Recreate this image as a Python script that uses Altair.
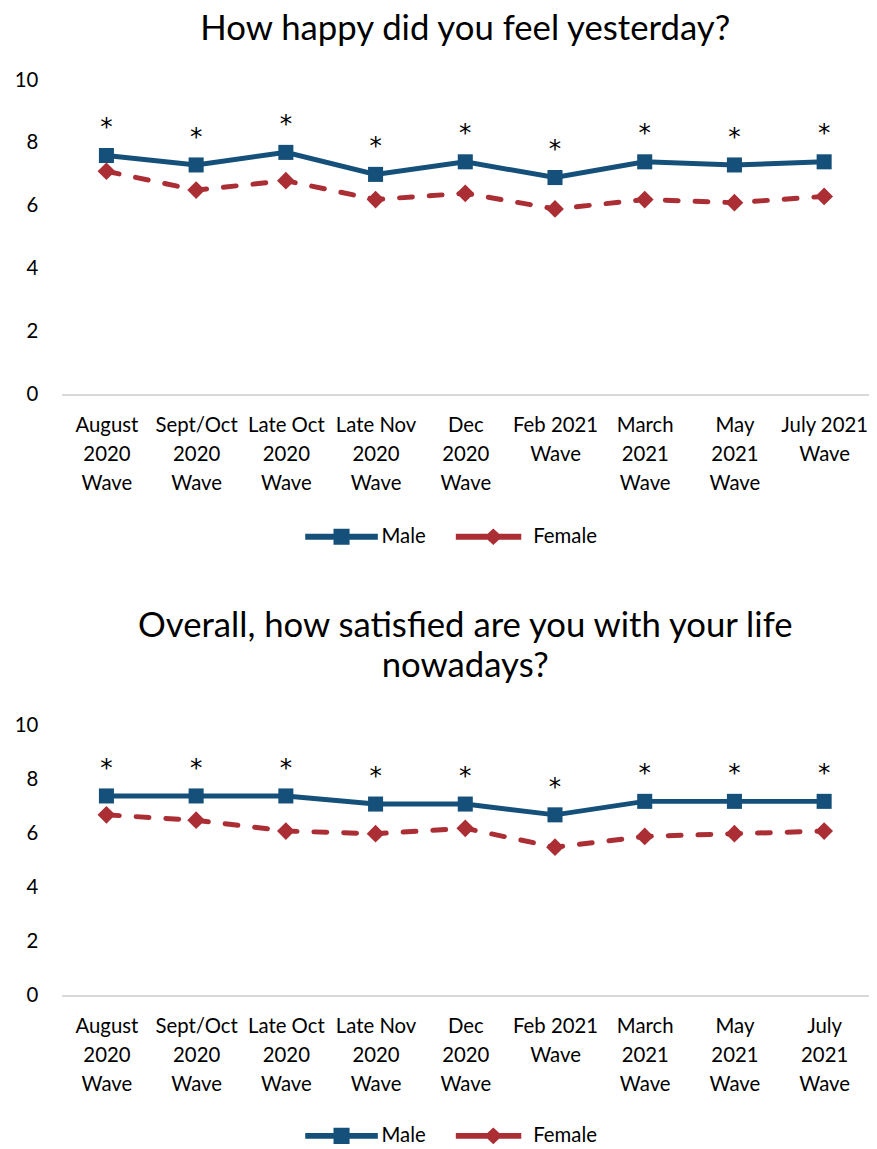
import altair as alt
import pandas as pd

FONT = "Lato"
MALE_COLOR = "#15507A"
FEMALE_COLOR = "#AB2E35"

series_names = ["Male", "Female"]

top_title = "How happy did you feel yesterday?"
top_waves = ["August|2020|Wave", "Sept/Oct|2020|Wave", "Late Oct|2020|Wave",
             "Late Nov|2020|Wave", "Dec|2020|Wave", "Feb 2021|Wave",
             "March|2021|Wave", "May|2021|Wave", "July 2021|Wave"]
top_male = [7.6, 7.3, 7.7, 7.0, 7.4, 6.9, 7.4, 7.3, 7.4]
top_female = [7.1, 6.5, 6.8, 6.2, 6.4, 5.9, 6.2, 6.1, 6.3]

bot_title = ["Overall, how satisfied are you with your life", "nowadays?"]
bot_waves = ["August|2020|Wave", "Sept/Oct|2020|Wave", "Late Oct|2020|Wave",
             "Late Nov|2020|Wave", "Dec|2020|Wave", "Feb 2021|Wave",
             "March|2021|Wave", "May|2021|Wave", "July|2021|Wave"]
bot_male = [7.4, 7.4, 7.4, 7.1, 7.1, 6.7, 7.2, 7.2, 7.2]
bot_female = [6.7, 6.5, 6.1, 6.0, 6.2, 5.5, 5.9, 6.0, 6.1]

sig_mark = "*"

y_ticks = [0, 2, 4, 6, 8, 10]

# legend symbols (line + marker), drawn in unit coordinates
MALE_LEGEND_PATH = ("M-6.1,-0.5 H6.1 V0.5 H-6.1 Z "
                    "M-1.35,-1.35 H1.35 V1.35 H-1.35 Z")
FEMALE_LEGEND_PATH = ("M-6.3,-0.5 H-2.2 V0.5 H-6.3 Z "
                      "M-2.2,-0.5 H2.2 V0.5 H-2.2 Z "
                      "M2.2,-0.5 H4.7 V0.5 H2.2 Z "
                      "M0,-1.4 L1.5,0 L0,1.4 L-1.5,0 Z")
DIAMOND_PATH = "M0,-1 L1,0 L0,1 L-1,0 Z"

LABEL_SIZE = 20.5


def make_df(waves, male, female):
    rows = []
    for w, v in zip(waves, male):
        rows.append({"wave": w, "series": "Male", "value": v})
    for w, v in zip(waves, female):
        rows.append({"wave": w, "series": "Female", "value": v})
    return pd.DataFrame(rows)


def make_legend(legend_y):
    return alt.Legend(orient="none", direction="horizontal",
                      legendX=272, legendY=legend_y,
                      symbolSize=144, symbolStrokeWidth=0,
                      labelOffset=30, columnPadding=29,
                      labelFontSize=LABEL_SIZE, labelFont=FONT,
                      labelColor="#000000", padding=0, symbolOpacity=1)


def make_panel(title, waves, male, female, height, legend_y, offset):
    df = make_df(waves, male, female)
    base = alt.Chart(df)
    x = alt.X("wave:N", sort=waves, title=None,
              axis=alt.Axis(labelAngle=0, labelExpr="split(datum.label, '|')",
                            ticks=False, domainColor="#D9D9D9", domainWidth=2,
                            labelPadding=21, labelLineHeight=29.5,
                            labelFontSize=LABEL_SIZE, labelFont=FONT,
                            labelColor="#000000", grid=False))
    y = alt.Y("value:Q", title=None,
              scale=alt.Scale(domain=[0, 10], nice=False, zero=True),
              axis=alt.Axis(values=y_ticks, domain=False, ticks=False, grid=False,
                            labelPadding=24, labelFontSize=LABEL_SIZE, labelFont=FONT,
                            labelColor="#000000"))

    male_line = base.transform_filter("datum.series == 'Male'").mark_line(
        color=MALE_COLOR, strokeWidth=5).encode(x=x, y=y)
    female_line = base.transform_filter("datum.series == 'Female'").mark_line(
        color=FEMALE_COLOR, strokeWidth=5, strokeDash=[13, 17], strokeCap="round"
    ).encode(x=x, y=y)
    male_pts = base.transform_filter("datum.series == 'Male'").mark_point(
        shape="square", filled=True, size=230, color=MALE_COLOR, opacity=1
    ).encode(x=x, y=y)
    female_pts = base.transform_filter("datum.series == 'Female'").mark_point(
        shape=DIAMOND_PATH, filled=True, size=320, color=FEMALE_COLOR, opacity=1
    ).encode(x=x, y=y)
    stars = base.transform_filter("datum.series == 'Male'").mark_text(
        text=sig_mark, fontSize=25, font="DejaVu Sans", color="#000000",
        baseline="alphabetic", dy=-20.5
    ).encode(x=x, y=y)

    legend_layer = base.transform_filter("false").mark_point(
        filled=True, opacity=1
    ).encode(
        x=x, y=y,
        shape=alt.Shape("series:N", title=None,
                        scale=alt.Scale(domain=series_names,
                                        range=[MALE_LEGEND_PATH, FEMALE_LEGEND_PATH]),
                        legend=make_legend(legend_y)),
        color=alt.Color("series:N", title=None,
                        scale=alt.Scale(domain=series_names,
                                        range=[MALE_COLOR, FEMALE_COLOR]),
                        legend=make_legend(legend_y)),
    )

    return alt.layer(female_line, male_line, female_pts, male_pts, stars,
                     legend_layer).properties(
        width=814, height=height,
        title=alt.TitleParams(text=title, font=FONT, fontSize=35,
                              fontWeight="normal", color="#000000",
                              anchor="middle", lineHeight=41, offset=offset),
    )


top = make_panel(top_title, top_waves, top_male, top_female, 317, 450, 23)
bottom = make_panel(bot_title, bot_waves, bot_male, bot_female, 272, 403, 32)

chart = alt.vconcat(top, bottom, spacing=62).resolve_scale(
    color="independent", shape="independent"
).resolve_legend(color="independent", shape="independent").properties(
    padding={"left": 6, "top": 0, "right": 0, "bottom": 0}
).configure_view(stroke=None).configure_concat(spacing=62)

chart.save("out.html", embed_options={"renderer": "svg", "actions": False})
